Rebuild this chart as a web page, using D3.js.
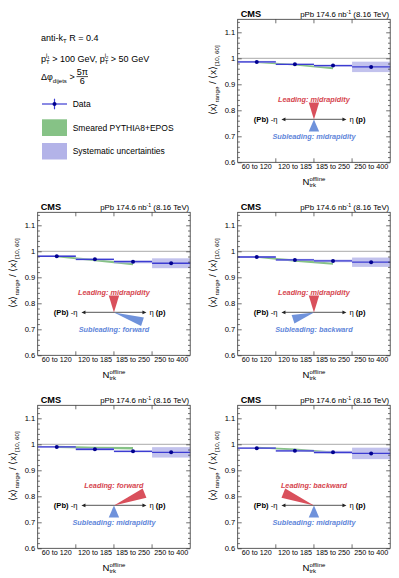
<!DOCTYPE html>
<html><head><meta charset="utf-8">
<script src="https://cdn.jsdelivr.net/npm/d3@7"></script>
<style>body{margin:0;background:#fff}svg{display:block}text{white-space:pre}</style>
</head><body>
<script>
// multiplicity bins and y ticks
var categories = ["60 to 120", "120 to 185", "185 to 250", "250 to 400"];
var yTicks = [0.6, 0.7, 0.8, 0.9, 1, 1.1];

// one entry per panel
var leadingRegion = ["midrapidity", "midrapidity", "midrapidity", "forward", "backward"];
var subleadingRegion = ["midrapidity", "forward", "backward", "midrapidity", "midrapidity"];

var dataRatio = [
    [0.986, 0.977, 0.972, 0.967],
    [0.981, 0.969, 0.960, 0.954],
    [0.978, 0.967, 0.963, 0.958],
    [0.990, 0.981, 0.973, 0.969],
    [0.985, 0.975, 0.969, 0.965]];
var dataStat = [
    [0.002, 0.002, 0.002, 0.002],
    [0.002, 0.002, 0.002, 0.002],
    [0.002, 0.002, 0.002, 0.002],
    [0.002, 0.002, 0.002, 0.002],
    [0.002, 0.002, 0.002, 0.002]];
var dataSyst = [
    [0.004, 0.003, 0.004, 0.020],
    [0.003, 0.004, 0.006, 0.019],
    [0.003, 0.004, 0.005, 0.018],
    [0.003, 0.005, 0.004, 0.020],
    [0.003, 0.004, 0.006, 0.022]];
// smeared PYTHIA8+EPOS, first three bins only
var mcRatio = [
    [0.985, 0.975, 0.962],
    [0.980, 0.966, 0.950],
    [0.978, 0.964, 0.952],
    [0.990, 0.987, 0.985],
    [0.988, 0.980, 0.968]];
var mcErr = [
    [0.003, 0.003, 0.004],
    [0.003, 0.004, 0.004],
    [0.003, 0.004, 0.004],
    [0.004, 0.004, 0.005],
    [0.003, 0.004, 0.004]];

var FONT = "'Liberation Sans', Arial, Helvetica, sans-serif";
var W = 152.5, H = 143;
var panelPos = [[237.7, 19.3], [37.7, 212.3], [237.7, 212.3], [37.7, 405.3], [237.7, 405.3]];

var colData = "#3c3cd2", colMarker = "#00008f", colSyst = "#b3b3e8", colMC = "#86c286";
var colRed = "#d9505c", colBlue = "#6f92db";

var svg = d3.select("body").append("svg")
    .attr("width", 399).attr("height", 578)
    .attr("font-family", FONT);

// text built from pieces (sub/superscripts)
function rich(parent, parts) {
    var g = parent.append("g");
    var cx = 0, holdW = 0;
    parts.forEach(function(p) {
        var t = g.append("text")
            .attr("x", p.hold ? cx + holdW : cx)
            .attr("y", p.dy || 0)
            .attr("font-size", p.size)
            .attr("font-weight", p.bold ? "bold" : null)
            .attr("font-style", p.italic ? "italic" : null)
            .attr("fill", p.fill || "#000")
            .text(p.t);
        var w = t.node().getComputedTextLength();
        if (p.hold) holdW += w;
        else { cx += Math.max(w, holdW); holdW = 0; }
    });
    return {g: g, width: cx};
}
function label(parent, x, y, parts, anchor, rot) {
    var outer = parent.append("g")
        .attr("transform", "translate(" + x + "," + y + ")" + (rot ? " rotate(" + rot + ")" : ""));
    var r = rich(outer, parts);
    var shift = anchor == "middle" ? -r.width / 2 : anchor == "end" ? -r.width : 0;
    r.g.attr("transform", "translate(" + shift + ",0)");
    return outer;
}

// ---------- legend (top-left) ----------
var leg = svg.append("g");
label(leg, 41, 40.5, [{t: "anti-k", size: 9}, {t: "T", size: 6, dy: 2.5}, {t: " R = 0.4", size: 9}]);
label(leg, 41, 61.5, [
    {t: "p", size: 9}, {t: "j", size: 6, dy: -4.5, hold: true}, {t: "1", size: 4.2, dy: -3, hold: true},
    {t: "T", size: 6, dy: 2.8},
    {t: " > 100 GeV, p", size: 9}, {t: "j", size: 6, dy: -4.5, hold: true}, {t: "2", size: 4.2, dy: -3, hold: true},
    {t: "T", size: 6, dy: 2.8},
    {t: " > 50 GeV", size: 9}]);
label(leg, 41, 80, [{t: "\u0394\u03c6", size: 9}, {t: "dijets", size: 6, dy: 3}, {t: " >", size: 9}]);
leg.append("text").attr("x", 82.3).attr("y", 74.5).attr("text-anchor", "middle")
    .attr("font-size", 9).text("5\u03c0");
leg.append("line").attr("x1", 76.5).attr("x2", 88).attr("y1", 76.6).attr("y2", 76.6)
    .attr("stroke", "#000").attr("stroke-width", 0.7);
leg.append("text").attr("x", 82.3).attr("y", 84.3).attr("text-anchor", "middle")
    .attr("font-size", 9).text("6");

leg.append("line").attr("x1", 42).attr("x2", 67).attr("y1", 104).attr("y2", 104)
    .attr("stroke", colData).attr("stroke-width", 1.2);
leg.append("line").attr("x1", 54.5).attr("x2", 54.5).attr("y1", 98.7).attr("y2", 109.3)
    .attr("stroke", colData).attr("stroke-width", 1.2);
leg.append("circle").attr("cx", 54.5).attr("cy", 104).attr("r", 2).attr("fill", colMarker);
leg.append("rect").attr("x", 42).attr("y", 119.3).attr("width", 25).attr("height", 16.7).attr("fill", colMC);
leg.append("rect").attr("x", 42).attr("y", 143).attr("width", 25).attr("height", 16.5).attr("fill", colSyst);
leg.append("text").attr("x", 72.7).attr("y", 107).attr("font-size", 8.5).text("Data");
leg.append("text").attr("x", 72.7).attr("y", 130.8).attr("font-size", 8.5).text("Smeared PYTHIA8+EPOS");
leg.append("text").attr("x", 72.7).attr("y", 154.2).attr("font-size", 8.5).text("Systematic uncertainties");

// ---------- panels ----------
var y = d3.scaleLinear().domain([0.6, 1.15]).range([H, 0]);
var x = d3.scaleBand().domain(categories).range([0, W]);
var minorTicks = d3.range(31).map(function(i) { return +(0.6 + i * 0.02).toFixed(2); })
    .filter(function(v) { return v < 1.15 && yTicks.indexOf(v) < 0; });

// wedge geometry per region (angle, length, half width)
var wedgeLead = {midrapidity: [90, 17, 5.2], forward: [22, 33, 5], backward: [158, 33, 5]};
var wedgeSub = {midrapidity: [-90, 12, 5.2], forward: [-18, 30, 4.5], backward: [-162, 22, 4.5]};

function wedge(cx, cy, spec) {
    var a = spec[0] * Math.PI / 180, L = spec[1], w = spec[2];
    var fx = cx + L * Math.cos(a), fy = cy - L * Math.sin(a);
    var px = Math.sin(a) * w, py = Math.cos(a) * w;
    return [[cx, cy], [fx + px, fy + py], [fx - px, fy - py]];
}

dataRatio.forEach(function(vals, k) {
    var g = svg.append("g").attr("transform", "translate(" + panelPos[k][0] + "," + panelPos[k][1] + ")");

    // MC band between bin centres
    var mcPts = mcRatio[k].map(function(v, i) {
        return {x: x(categories[i]) + x.bandwidth() / 2, lo: v - mcErr[k][i], hi: v + mcErr[k][i]};
    });
    g.append("path").datum(mcPts)
        .attr("d", d3.area().x(function(d) { return d.x; })
            .y0(function(d) { return y(d.lo); }).y1(function(d) { return y(d.hi); }))
        .attr("fill", colMC);

    // systematic boxes
    g.selectAll(".syst").data(vals).enter().append("rect")
        .attr("x", function(d, i) { return x(categories[i]); })
        .attr("width", x.bandwidth())
        .attr("y", function(d, i) { return y(d + dataSyst[k][i]); })
        .attr("height", function(d, i) { return y(d - dataSyst[k][i]) - y(d + dataSyst[k][i]); })
        .attr("fill", colSyst).attr("fill-opacity", 0.8);

    // reference line at 1
    g.append("line").attr("x1", 0).attr("x2", W).attr("y1", y(1)).attr("y2", y(1))
        .attr("stroke", "#a0a0a0").attr("stroke-width", 0.9);

    // data: horizontal bin line, stat bar, marker
    g.selectAll(".hbar").data(vals).enter().append("line")
        .attr("x1", function(d, i) { return x(categories[i]); })
        .attr("x2", function(d, i) { return x(categories[i]) + x.bandwidth(); })
        .attr("y1", function(d) { return y(d); }).attr("y2", function(d) { return y(d); })
        .attr("stroke", colData).attr("stroke-width", 1.3);
    g.selectAll(".vbar").data(vals).enter().append("line")
        .attr("x1", function(d, i) { return x(categories[i]) + x.bandwidth() / 2; })
        .attr("x2", function(d, i) { return x(categories[i]) + x.bandwidth() / 2; })
        .attr("y1", function(d, i) { return y(d - dataStat[k][i]); })
        .attr("y2", function(d, i) { return y(d + dataStat[k][i]); })
        .attr("stroke", colData).attr("stroke-width", 1.2);
    g.selectAll(".pt").data(vals).enter().append("circle")
        .attr("cx", function(d, i) { return x(categories[i]) + x.bandwidth() / 2; })
        .attr("cy", function(d) { return y(d); })
        .attr("r", 2).attr("fill", colMarker);

    // axes
    var ax = g.append("g").attr("font-family", FONT);
    var yl = ax.append("g").call(d3.axisLeft(y).tickValues(yTicks).tickSize(-4).tickPadding(2.5)
        .tickFormat(d3.format("~g")));
    yl.selectAll("text").attr("font-size", 7.6).attr("fill", "#000");
    ax.append("g").call(d3.axisLeft(y).tickValues(minorTicks).tickSize(-2.2).tickFormat(""));
    ax.append("g").attr("transform", "translate(" + W + ",0)")
        .call(d3.axisRight(y).tickValues(yTicks).tickSize(-4).tickFormat(""));
    ax.append("g").attr("transform", "translate(" + W + ",0)")
        .call(d3.axisRight(y).tickValues(minorTicks).tickSize(-2.2).tickFormat(""));
    var xl = ax.append("g").attr("transform", "translate(0," + H + ")")
        .call(d3.axisBottom(x).tickSize(0).tickPadding(1.6));
    xl.selectAll("text").attr("font-size", 7.2).attr("fill", "#000");
    ax.selectAll(".domain").remove();
    ax.selectAll("line").attr("stroke", "#333").attr("stroke-width", 0.7);

    categories.slice(1).forEach(function(c) {
        var bx = x(c);
        g.append("line").attr("x1", bx).attr("x2", bx).attr("y1", H).attr("y2", H - 4)
            .attr("stroke", "#333").attr("stroke-width", 0.7);
        g.append("line").attr("x1", bx).attr("x2", bx).attr("y1", 0).attr("y2", 4)
            .attr("stroke", "#333").attr("stroke-width", 0.7);
    });

    g.append("rect").attr("width", W).attr("height", H)
        .attr("fill", "none").attr("stroke", "#333").attr("stroke-width", 0.8);

    // header
    g.append("text").attr("x", 3).attr("y", -2.2).attr("font-size", 9.2).attr("font-weight", "bold").text("CMS");
    label(g, W - 1, -2.2, [{t: "pPb 174.6 nb", size: 7.8}, {t: "-1", size: 5.2, dy: -3}, {t: " (8.16 TeV)", size: 7.8}], "end");

    // axis titles
    label(g, -22, 61, [
        {t: "\u27e8x\u27e9", size: 9.5}, {t: "range", size: 6.2, dy: 2.8},
        {t: " / \u27e8x\u27e9", size: 9.5}, {t: "[10, 60]", size: 6.2, dy: 2.8}], "middle", -90);
    label(g, W / 2, H + 22.5, [
        {t: "N", size: 9.5}, {t: "offline", size: 6, dy: -4.3, hold: true}, {t: "trk", size: 6, dy: 2.6}], "middle");

    // eta diagram
    var cx = W / 2, cy = y(0.765);
    var dg = g.append("g");
    dg.append("line").attr("x1", cx - 30).attr("x2", cx + 30).attr("y1", cy).attr("y2", cy)
        .attr("stroke", "#777").attr("stroke-width", 1.1);
    dg.append("path").attr("d", d3.line()([[cx - 32.5, cy], [cx - 28.5, cy - 1.8], [cx - 28.5, cy + 1.8]]) + "Z")
        .attr("fill", "#222");
    dg.append("path").attr("d", d3.line()([[cx + 32.5, cy], [cx + 28.5, cy - 1.8], [cx + 28.5, cy + 1.8]]) + "Z")
        .attr("fill", "#222");
    dg.append("path").attr("d", d3.line()(wedge(cx, cy, wedgeLead[leadingRegion[k]])) + "Z").attr("fill", colRed);
    dg.append("path").attr("d", d3.line()(wedge(cx, cy, wedgeSub[subleadingRegion[k]])) + "Z").attr("fill", colBlue);
    label(dg, cx - 36.5, cy + 2.7, [{t: "(Pb)", size: 7.6, bold: true}, {t: " -\u03b7", size: 7.6}], "end");
    label(dg, cx + 35.5, cy + 2.7, [{t: "\u03b7 ", size: 7.6}, {t: "(p)", size: 7.6, bold: true}]);
    dg.append("text").attr("x", cx).attr("y", cy - 17.3).attr("text-anchor", "middle")
        .attr("font-size", 7.3).attr("font-weight", "bold").attr("font-style", "italic")
        .attr("fill", "#d6464f").text("Leading: " + leadingRegion[k]);
    dg.append("text").attr("x", cx).attr("y", cy + 19.3).attr("text-anchor", "middle")
        .attr("font-size", 7.3).attr("font-weight", "bold").attr("font-style", "italic")
        .attr("fill", "#5f86da").text("Subleading: " + subleadingRegion[k]);
});
</script>
</body></html>
